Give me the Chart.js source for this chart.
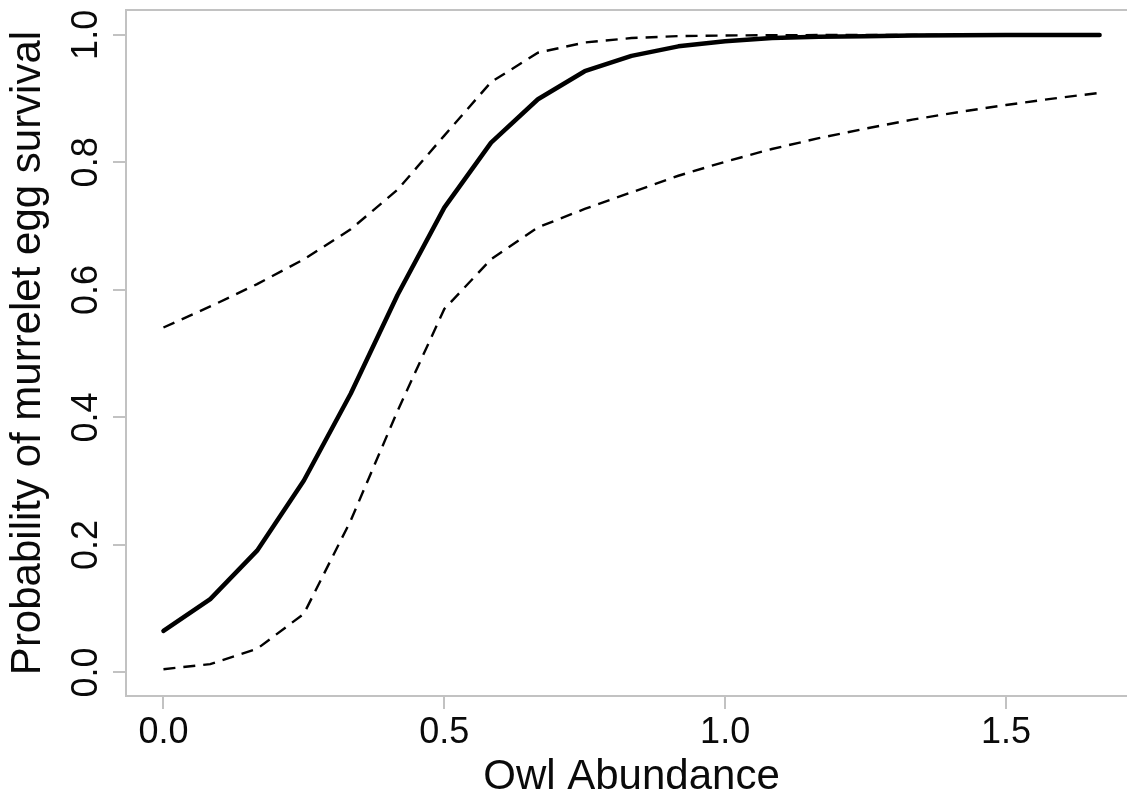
<!DOCTYPE html>
<html>
<head>
<meta charset="utf-8">
<script src="https://cdn.jsdelivr.net/npm/chart.js@4.4.1/dist/chart.umd.min.js"></script>
<style>
  html, body { margin: 0; padding: 0; background: #fff; overflow: hidden; }
  #wrap { width: 1127px; height: 803px; overflow: hidden; position: relative; }
  canvas { display: block; }
</style>
</head>
<body>
<div id="wrap"><canvas id="c" width="1170" height="803"></canvas></div>
<script>
// Owl abundance values (x)
const owlAbundance = [0, 0.0833, 0.1667, 0.25, 0.3333, 0.4167, 0.5, 0.5833, 0.6667, 0.75, 0.8333,
  0.9167, 1.0, 1.0833, 1.1667, 1.25, 1.3333, 1.4167, 1.5, 1.5833, 1.6667];
// Fitted probability of murrelet egg survival
const fitted = [0.065, 0.115, 0.191, 0.301, 0.437, 0.592, 0.729, 0.831, 0.899, 0.943, 0.967,
  0.982, 0.990, 0.995, 0.997, 0.998, 0.999, 0.9995, 0.9997, 0.9998, 0.9999];
// Upper confidence bound
const upper = [0.541, 0.574, 0.609, 0.648, 0.695, 0.757, 0.842, 0.926, 0.972, 0.988, 0.995,
  0.998, 0.999, 0.9995, 0.9997, 0.9998, 0.9999, 1.0, 1.0, 1.0, 1.0];
// Lower confidence bound
const lower = [0.005, 0.013, 0.037, 0.092, 0.238, 0.41, 0.57, 0.648, 0.698, 0.727, 0.753,
  0.779, 0.801, 0.821, 0.838, 0.853, 0.867, 0.879, 0.890, 0.900, 0.909];

const xTicks = [0, 0.5, 1.0, 1.5];
const xTickLabels = ['0.0', '0.5', '1.0', '1.5'];
const yTicks = [0, 0.2, 0.4, 0.6, 0.8, 1.0];
const yTickLabels = ['0.0', '0.2', '0.4', '0.6', '0.8', '1.0'];
const xTitle = 'Owl Abundance';
const yTitle = 'Probability of murrelet egg survival';

const FONT = "'Liberation Sans', Arial, Helvetica, sans-serif";
const AXIS_GRAY = '#c2c2c2';

function pts(ys) { return owlAbundance.map((x, i) => ({ x: x, y: ys[i] })); }

const boxPlugin = {
  id: 'rbox',
  beforeDatasetsDraw(chart) {
    const a = chart.chartArea, ctx = chart.ctx;
    ctx.save();
    ctx.strokeStyle = AXIS_GRAY;
    ctx.lineWidth = 2;
    ctx.beginPath();
    ctx.moveTo(a.left, a.top);
    ctx.lineTo(a.right, a.top);
    ctx.stroke();
    ctx.restore();
  },
  afterDraw(chart) {
    const ys = chart.scales.y, ctx = chart.ctx;
    ctx.save();
    ctx.fillStyle = '#0a0a0a';
    ctx.font = '36px ' + FONT;
    ctx.textAlign = 'center';
    ctx.textBaseline = 'alphabetic';
    yTicks.forEach((v, i) => {
      const py = ys.getPixelForValue(v);
      ctx.save();
      ctx.translate(97, py);
      ctx.rotate(-Math.PI / 2);
      ctx.fillText(yTickLabels[i], 0, 0);
      ctx.restore();
    });
    ctx.restore();
  }
};

new Chart(document.getElementById('c'), {
  type: 'line',
  data: {
    datasets: [
      { data: pts(fitted), borderColor: '#000', borderWidth: 4.5, pointRadius: 0, tension: 0,
        borderCapStyle: 'round', borderJoinStyle: 'round', fill: false },
      { data: pts(upper), borderColor: '#000', borderWidth: 2.4, borderDash: [12, 8], pointRadius: 0,
        tension: 0, fill: false },
      { data: pts(lower), borderColor: '#000', borderWidth: 2.4, borderDash: [12, 8], pointRadius: 0,
        tension: 0, fill: false }
    ]
  },
  options: {
    responsive: false,
    animation: false,
    devicePixelRatio: 1,
    layout: { padding: { top: 10, right: 33, bottom: 0, left: 0 } },
    plugins: { legend: { display: false }, tooltip: { enabled: false } },
    scales: {
      x: {
        type: 'linear',
        min: -0.0667, max: 1.7333,
        afterBuildTicks: s => { s.ticks = xTicks.map(v => ({ value: v })); },
        afterFit: s => { s.height = 107; },
        grid: { drawOnChartArea: false, drawTicks: true, tickLength: 13, color: AXIS_GRAY, lineWidth: 2 },
        border: { display: true, color: AXIS_GRAY, width: 2 },
        ticks: {
          color: '#0a0a0a', font: { family: FONT, size: 36 }, padding: 2, maxRotation: 0, minRotation: 0,
          callback: (v) => { const i = xTicks.indexOf(v); return i >= 0 ? xTickLabels[i] : ''; }
        },
        title: { display: true, text: xTitle, color: '#0a0a0a', font: { family: FONT, size: 42 },
          padding: { top: 0, bottom: 0 } }
      },
      y: {
        type: 'linear',
        min: -0.037, max: 1.039,
        afterBuildTicks: s => { s.ticks = yTicks.map(v => ({ value: v })); },
        afterFit: s => { s.width = 126; },
        grid: { drawOnChartArea: false, drawTicks: true, tickLength: 13, color: AXIS_GRAY, lineWidth: 2 },
        border: { display: true, color: AXIS_GRAY, width: 2 },
        ticks: { display: false },
        title: { display: true, text: yTitle, color: '#0a0a0a', font: { family: FONT, size: 42 },
          padding: { top: 3, bottom: 0 } }
      }
    }
  },
  plugins: [boxPlugin]
});
</script>
</body>
</html>
